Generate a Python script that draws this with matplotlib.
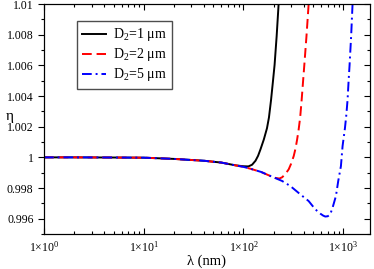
import math
import matplotlib
matplotlib.use("Agg")
import matplotlib.pyplot as plt
from matplotlib.ticker import FuncFormatter, LogLocator, MultipleLocator, NullFormatter

plt.rcParams["font.family"] = ["Liberation Serif", "DejaVu Serif"]
plt.rcParams["mathtext.fontset"] = "custom"
plt.rcParams["mathtext.rm"] = "Liberation Serif"
plt.rcParams["mathtext.it"] = "Liberation Serif:italic"

# values
lam_1 = [1, 2, 5, 10, 20, 40, 60, 83, 100, 112, 122, 132, 140, 148, 160, 172, 180,
         189, 197, 205, 215, 225]
eta_1 = [1.0, 1.0, 0.99999, 0.99998, 0.9999, 0.99978, 0.99966, 0.99948, 0.99942,
         0.99941, 0.99952, 0.99978, 1.0001, 1.00052, 1.00117, 1.0019, 1.0026,
         1.00375, 1.0049, 1.00603, 1.0079, 1.01]

lam_2 = [1, 2, 5, 10, 20, 40, 60, 83, 100, 117, 150, 179, 209, 229, 244, 262, 284,
         300, 319, 333, 345, 357, 370, 383, 395, 407, 428, 450]
eta_2 = [1.0, 1.0, 0.99999, 0.99998, 0.9999, 0.99978, 0.99966, 0.99948, 0.99938,
         0.99926, 0.99905, 0.99883, 0.99866, 0.99862, 0.9987, 0.9989, 0.99922,
         0.99958, 1.00009, 1.0006, 1.00117, 1.0018, 1.0026, 1.00375, 1.0049,
         1.006, 1.0079, 1.01]

lam_5 = [1, 2, 5, 10, 20, 40, 60, 83, 100, 117, 150, 179, 244, 295, 371, 450, 525,
         589, 630, 661, 700, 741, 782, 845, 891, 948, 985, 1040, 1075, 1105, 1130,
         1157, 1200, 1240]
eta_5 = [1.0, 1.0, 0.99999, 0.99998, 0.9999, 0.99978, 0.99966, 0.99948, 0.99938,
         0.99926, 0.99905, 0.99883, 0.99846, 0.99813, 0.99759, 0.99715, 0.99661,
         0.99633, 0.9962, 0.99614, 0.99616, 0.99629, 0.99672, 0.99748, 0.99846,
         0.99943, 1.00074, 1.0019, 1.0028, 1.00375, 1.0049, 1.006, 1.0079, 1.01]

labels = ["D$_2$=1 μm", "D$_2$=2 μm", "D$_2$=5 μm"]

fig = plt.figure(figsize=(3.74, 2.69), dpi=100)
ax = fig.add_axes([0.1176, 0.130, 0.8714, 0.855])

ax.plot(lam_1, eta_1, color="black", lw=1.4, ls="-", label=labels[0])
ax.plot(lam_2, eta_2, color="red", lw=1.4, ls=(0, (5, 2.5)), label=labels[1])
ax.plot(lam_5, eta_5, color="blue", lw=1.4, ls=(0, (5, 2, 1, 2)), label=labels[2])

ax.set_xscale("log")
ax.set_xlim(1, 1850)
ax.set_ylim(0.995, 1.01)

ax.xaxis.set_major_locator(LogLocator(base=10, numticks=10))
ax.xaxis.set_minor_locator(LogLocator(base=10, subs=range(2, 10), numticks=20))
ax.xaxis.set_major_formatter(FuncFormatter(lambda v, p: "1×10$^{%d}$" % round(math.log10(v))))
ax.xaxis.set_minor_formatter(NullFormatter())
ax.yaxis.set_major_locator(MultipleLocator(0.002))
ax.yaxis.set_minor_locator(MultipleLocator(0.001))
ax.yaxis.set_major_formatter(FuncFormatter(lambda v, p: "%g" % round(v, 4)))

ax.tick_params(axis="x", which="both", direction="in", top=True, labelsize=8.5, pad=4)
ax.tick_params(axis="y", which="both", direction="out", labelsize=8.5)
ax.tick_params(which="major", length=4, width=0.8)
ax.tick_params(which="minor", length=2.5, width=0.8)

# right side ticks pointing inward
ax2 = ax.twinx()
ax2.set_ylim(ax.get_ylim())
ax2.yaxis.set_major_locator(MultipleLocator(0.002))
ax2.yaxis.set_minor_locator(MultipleLocator(0.001))
ax2.tick_params(axis="y", which="both", direction="in", labelright=False)
ax2.tick_params(which="major", length=4, width=0.8)
ax2.tick_params(which="minor", length=2.5, width=0.8)

ax.set_xlabel("λ (nm)", fontsize=10.5, labelpad=0)
ax.set_ylabel("η", fontsize=11, rotation=0, va="center", ha="center")
ax.yaxis.set_label_coords(-0.105, 0.51)

ax.legend(loc="upper left", bbox_to_anchor=(0.101, 0.927), borderaxespad=0,
          fontsize=10, frameon=True, fancybox=False, edgecolor="0.3",
          framealpha=1, handlelength=1.7, handletextpad=0.5,
          labelspacing=0.22, borderpad=0.4)

plt.savefig("out.png", dpi=100)
